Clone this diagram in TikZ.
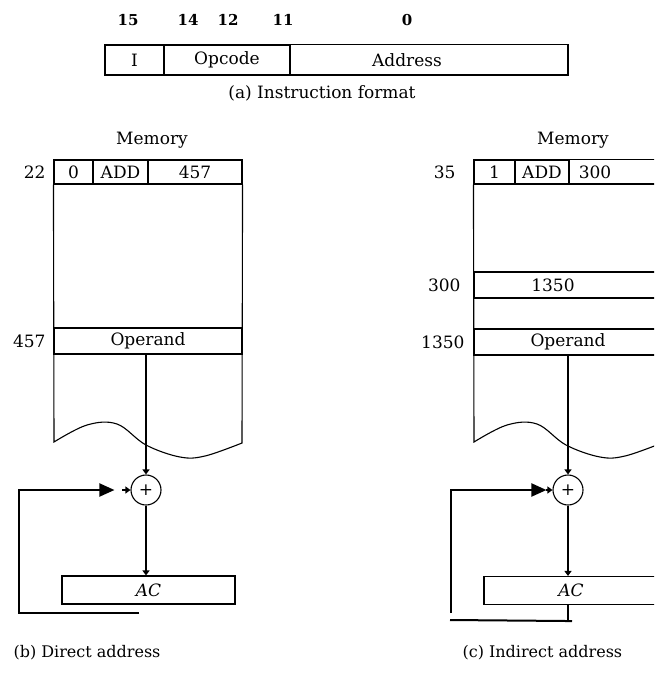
\documentclass[tikz,border=0pt]{standalone}
\usepackage{fontspec}
\setmainfont{DejaVu Serif}
\usetikzlibrary{arrows.meta}
\tikzstyle{cellStyle}=[shape = rectangle, draw, inner sep = 0pt, line width = 1.1pt]
\tikzstyle{sumStyle}=[shape = circle, draw, minimum size = 30pt, inner sep = 0pt, line width = 1.1pt]
\tikzstyle{textStyle}=[inner sep = 0pt]
\tikzstyle{bitStyle}=[inner sep = 0pt, font = \fontsize{15}{18}\selectfont\bfseries]
\tikzstyle{capStyle}=[inner sep = 0pt, anchor = west, font = \fontsize{16}{19}\selectfont]

\begin{document}
\begin{tikzpicture}[x = 1pt, y = -1pt, line width = 1.1pt, font = \fontsize{17}{20}\selectfont]
\tikzstyle{tipSmall}=[-{Triangle[length = 5pt, width = 7pt]}]
\tikzstyle{tipBig}=[-{Triangle[length = 15pt, width = 13pt]}, line width = 2pt]
\useasboundingbox (0,0) rectangle (654,675);
\clip (0,0) rectangle (654,675);
% instruction format
\node[bitStyle] (b15) at (128,20) {15};
\node[bitStyle] (b14) at (188,20) {14};
\node[bitStyle] (b12) at (228,20) {12};
\node[bitStyle] (b11) at (283,20) {11};
\node[bitStyle] (b0) at (407,20) {0};
\node[cellStyle, minimum width = 59, minimum height = 30] (fI) at (134.5,60) {I};
\node[cellStyle, minimum width = 126, minimum height = 30] (fCode) at (227,60) {Opcode};
\draw (fCode.north east) rectangle (568,75);
\node[textStyle] (fAddr) at (407,60) {Address};
\node[textStyle] (fCap) at (322,93) {(a) Instruction format};
% direct address
\node[textStyle] (lMem) at (152,140) {Memory};
\node[textStyle, anchor = east] (lA22) at (46,172) {22};
\node[cellStyle, minimum width = 39, minimum height = 24] (lI) at (73.5,172) {0};
\node[cellStyle, minimum width = 55, minimum height = 24] (lCode) at (120.5,172) {ADD};
\node[cellStyle, minimum width = 94, minimum height = 24] (lAddr) at (195,172) {457};
\node[textStyle, anchor = east] (lA457) at (46,341) {457};
\node[cellStyle, minimum width = 188, minimum height = 26] (lOp) at (148,341) {Operand};
\draw (lI.south west) -- plot[smooth, tension = 0.6] coordinates {(54,442) (87,425) (117,424) (146,445) (180,457) (205,456) (242,443)} -- (lAddr.south east);
\node[sumStyle] (lSum) at (146,490) {+};
\node[cellStyle, minimum width = 173, minimum height = 28] (lAC) at (148.5,590) {\textit{AC}};
\draw[tipSmall] (lSum |- lOp.south) -- (lSum.north);
\draw[tipSmall] (lSum.south) -- (lSum |- lAC.north);
\coordinate (lEnd) at (139,613);
\draw[tipBig] (lEnd) -- (19,613) |- ([xshift = -16pt]lSum.west);
\draw[tipSmall] ([xshift = -8pt]lSum.west) -- (lSum.west);
\node[capStyle] (lCap) at (13,653) {(b) Direct address};
% indirect address
\node[textStyle] (rMem) at (573,140) {Memory};
\node[textStyle, anchor = east] (rA35) at (456,172) {35};
\node[cellStyle, minimum width = 41, minimum height = 24] (rI) at (494.5,172) {1};
\node[cellStyle, minimum width = 54, minimum height = 24] (rCode) at (542,172) {ADD};
\draw (rCode.north east) rectangle (662,184);
\node[textStyle] (rAddr) at (595,172) {300};
\node[textStyle, anchor = east] (rA300) at (461,285) {300};
\draw (474,272) rectangle (662,298);
\node[textStyle] (rPtr) at (553,285) {1350};
\node[textStyle, anchor = east] (rA1350) at (465,342) {1350};
\node[cellStyle, minimum width = 188, minimum height = 26] (rOp) at (568,342) {Operand};
\draw (rI.south west) -- plot[smooth, tension = 0.6] coordinates {(474,442) (507,425) (537,424) (566,445) (600,457) (625,456) (662,443)} -- (662,184);
\node[sumStyle] (rSum) at (568,490) {+};
\node[cellStyle, minimum width = 174, minimum height = 28] (rAC) at (571,590.5) {\textit{AC}};
\draw[tipSmall] (rSum |- rOp.south) -- (rSum.north);
\draw[tipSmall] (rSum.south) -- (rSum |- rAC.north);
\draw (rSum |- rAC.south) -- ++(0,16) coordinate (rEnd);
\draw[line width = 2pt] ([xshift = 4pt]rEnd) -- (450,620);
\draw[tipBig] (451,613) |- ([xshift = -6pt]rSum.west);
\draw[tipSmall] ([xshift = -6pt]rSum.west) -- (rSum.west);
\node[capStyle] (rCap) at (462,653) {(c) Indirect address};
\end{tikzpicture}
\end{document}
